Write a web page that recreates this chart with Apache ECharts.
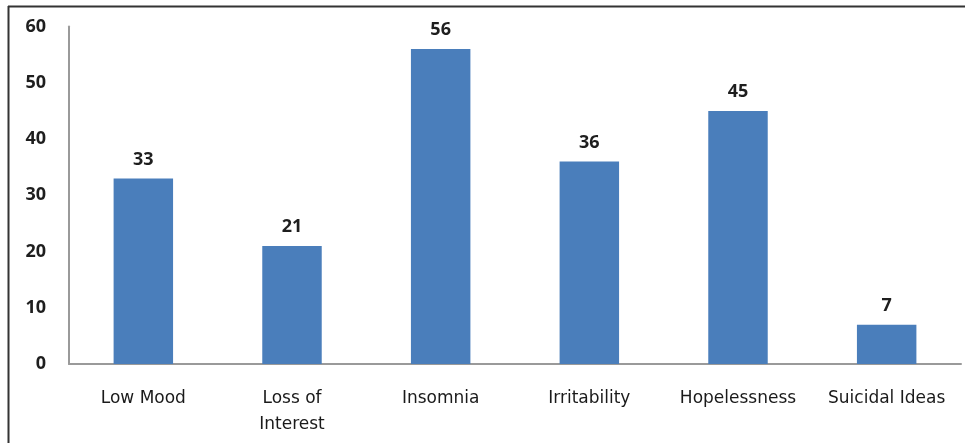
<!DOCTYPE html>
<html>
<head>
<meta charset="utf-8">
<script src="https://cdn.jsdelivr.net/npm/echarts@6/dist/echarts.min.js"></script>
<style>
  html, body { margin: 0; padding: 0; background: #fff; }
  #chart { width: 965px; height: 443px; }
</style>
</head>
<body>
<div id="chart"></div>
<script>
// Symptom counts
const categories = ['Low Mood', 'Loss of\nInterest', 'Insomnia', 'Irritability', 'Hopelessness', 'Suicidal Ideas'];
const counts = [33, 21, 56, 36, 45, 7];
const yTicks = { min: 0, max: 60, interval: 10 };

const TEXT_FONT = '"DejaVu Sans", "Open Sans", sans-serif';
const NUM_FONT = '"Open Sans", "Noto Sans", sans-serif';

const chart = echarts.init(document.getElementById('chart'), null, { renderer: 'canvas' });
chart.setOption({
  animation: false,
  backgroundColor: '#ffffff',
  grid: { left: 69, right: 4, top: 26.5, bottom: 79, containLabel: false },
  xAxis: {
    type: 'category',
    data: categories,
    axisLine: { show: true, lineStyle: { color: '#9a9a9a', width: 2 } },
    axisTick: { show: false },
    axisLabel: {
      color: '#1a1a1a',
      fontFamily: TEXT_FONT,
      fontSize: 17,
      margin: 22,
      lineHeight: 26,
      interval: 0
    },
    splitLine: { show: false }
  },
  yAxis: {
    type: 'value',
    min: yTicks.min,
    max: yTicks.max,
    interval: yTicks.interval,
    axisLine: { show: true, lineStyle: { color: '#9a9a9a', width: 2 } },
    axisTick: { show: false },
    splitLine: { show: false },
    axisLabel: {
      color: '#1e1e1e',
      fontFamily: NUM_FONT,
      fontSize: 18,
      fontWeight: 'bold',
      margin: 23
    }
  },
  series: [{
    type: 'bar',
    data: counts,
    barWidth: '40%',
    itemStyle: { color: '#4a7ebb' },
    label: {
      show: true,
      position: 'top',
      distance: 10,
      color: '#1e1e1e',
      fontFamily: NUM_FONT,
      fontSize: 18,
      fontWeight: 'bold'
    }
  }],
  graphic: [
    // frame along the top and left edges
    { type: 'line', shape: { x1: 8, y1: 6.5, x2: 965, y2: 6.5 }, style: { stroke: '#333', lineWidth: 2 } },
    { type: 'line', shape: { x1: 8.5, y1: 6, x2: 8.5, y2: 443 }, style: { stroke: '#333', lineWidth: 2 } }
  ]
});
</script>
</body>
</html>
